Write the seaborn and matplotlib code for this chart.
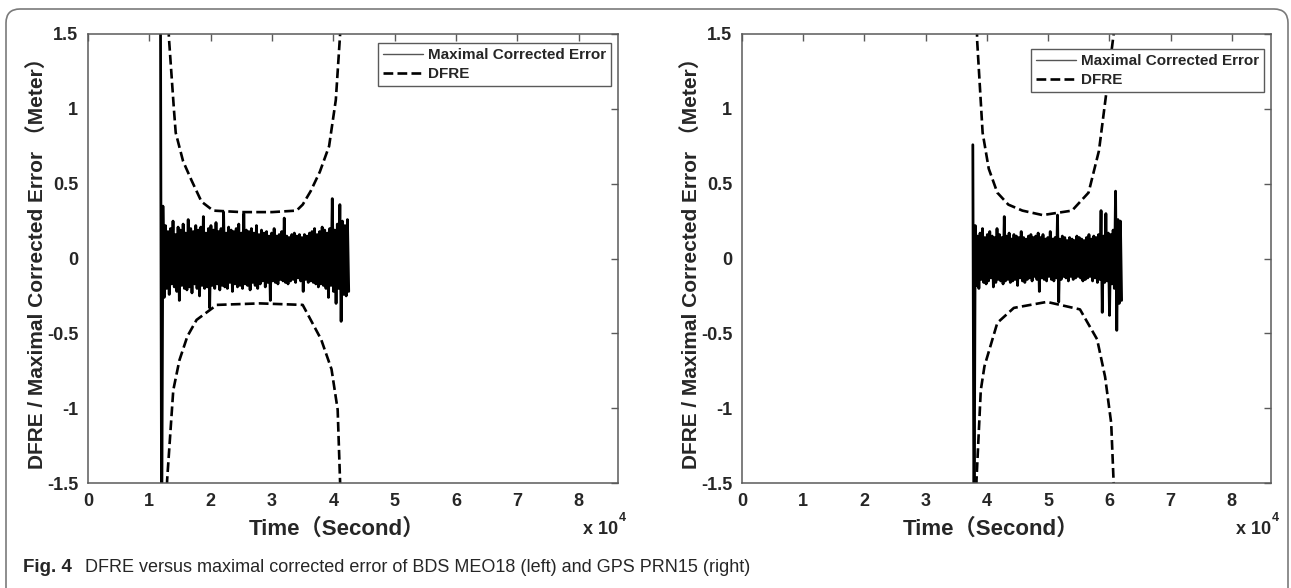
import numpy as np
import pandas as pd
import matplotlib
matplotlib.use("Agg")
import matplotlib.pyplot as plt
import seaborn as sns
from matplotlib.patches import FancyBboxPatch
from matplotlib.transforms import IdentityTransform

# ----------- Data -----------
x_max = 86400
x_ticks = [0, 1e4, 2e4, 3e4, 4e4, 5e4, 6e4, 7e4, 8e4]
x_tick_labels = ["0", "1", "2", "3", "4", "5", "6", "7", "8"]
y_ticks = [-1.5, -1, -0.5, 0, 0.5, 1, 1.5]
y_tick_labels = ["-1.5", "-1", "-0.5", "0", "0.5", "1", "1.5"]

# BDS MEO18 (left)
left_err_start, left_err_end = 11800, 42500
left_err = [
    2.0, -2.0, 0.35, -0.26, 0.22, -0.2, 0.18, -0.24, 0.2, -0.17,
    0.25, -0.19, 0.16, -0.22, 0.21, -0.28, 0.19, -0.18, 0.23, -0.2,
    0.17, -0.21, 0.26, -0.19, 0.2, -0.23, 0.18, -0.17, 0.22, -0.2,
    0.19, -0.25, 0.21, -0.18, 0.28, -0.2, 0.17, -0.19, 0.2, -0.33,
    0.22, -0.18, 0.19, -0.2, 0.24, -0.17, 0.18, -0.21, 0.2, -0.18,
    0.31, -0.19, 0.17, -0.2, 0.21, -0.16, 0.19, -0.22, 0.18, -0.17,
    0.2, -0.19, 0.23, -0.18, 0.17, -0.2, 0.3, -0.17, 0.19, -0.18,
    0.18, -0.21, 0.2, -0.16, 0.17, -0.18, 0.22, -0.2, 0.16, -0.17,
    0.19, -0.15, 0.17, -0.19, 0.18, -0.16, 0.15, -0.28, 0.17, -0.15,
    0.2, -0.16, 0.15, -0.17, 0.16, -0.14, 0.18, -0.15, 0.27, -0.16,
    0.15, -0.17, 0.14, -0.15, 0.16, -0.14, 0.17, -0.16, 0.15, -0.13,
    0.16, -0.15, 0.14, -0.22, 0.16, -0.14, 0.15, -0.16, 0.17, -0.15,
    0.18, -0.16, 0.2, -0.17, 0.16, -0.19, 0.18, -0.17, 0.21, -0.18,
    0.19, -0.2, 0.17, -0.26, 0.2, -0.18, 0.4, -0.22, 0.19, -0.3,
    0.23, -0.2, 0.36, -0.42, 0.25, -0.24, 0.22, -0.25, 0.26, -0.22,
]
left_dfre_up_t = [12800, 13200, 14000, 14300, 15500, 16900, 18500, 20400, 25000,
                  30000, 34000, 35000, 36300, 37800, 39300, 40400, 41100, 41300]
left_dfre_up = [1.8, 1.47, 1.0, 0.84, 0.65, 0.52, 0.38, 0.32, 0.31,
                0.31, 0.32, 0.36, 0.45, 0.58, 0.75, 1.06, 1.5, 1.8]
left_dfre_lo_t = [12700, 12900, 13900, 14900, 16200, 17700, 21000, 28000,
                  35000, 38000, 39700, 40700, 41100, 41200]
left_dfre_lo = [-1.8, -1.48, -0.88, -0.68, -0.52, -0.41, -0.31, -0.30,
                -0.31, -0.54, -0.74, -1.01, -1.5, -1.8]

# GPS PRN15 (right)
right_err_start, right_err_end = 37700, 62000
right_err = [
    0.76, -2.0, 0.22, -0.18, 0.15, -0.2, 0.17, -0.14, 0.2, -0.16,
    0.14, -0.17, 0.16, -0.15, 0.18, -0.13, 0.15, -0.19, 0.14, -0.16,
    0.2, -0.14, 0.16, -0.15, 0.14, -0.17, 0.28, -0.15, 0.15, -0.14,
    0.17, -0.16, 0.13, -0.15, 0.16, -0.14, 0.15, -0.18, 0.14, -0.13,
    0.18, -0.15, 0.14, -0.16, 0.13, -0.14, 0.15, -0.13, 0.16, -0.15,
    0.14, -0.12, 0.15, -0.14, 0.17, -0.22, 0.14, -0.13, 0.16, -0.14,
    0.13, -0.15, 0.14, -0.12, 0.18, -0.14, 0.13, -0.15, 0.14, -0.13,
    0.29, -0.29, 0.13, -0.14, 0.15, -0.12, 0.14, -0.13, 0.12, -0.15,
    0.14, -0.12, 0.13, -0.14, 0.12, -0.13, 0.15, -0.12, 0.14, -0.13,
    0.13, -0.15, 0.12, -0.14, 0.14, -0.13, 0.16, -0.12, 0.13, -0.15,
    0.15, -0.13, 0.14, -0.16, 0.16, -0.14, 0.32, -0.36, 0.15, -0.16,
    0.3, -0.15, 0.17, -0.38, 0.16, -0.17, 0.19, -0.2, 0.45, -0.48,
    0.26, -0.3, 0.25, -0.28,
]
right_dfre_up_t = [38300, 38400, 39300, 40300, 41700, 43500, 45800, 49100,
                   53900, 56600, 58300, 59700, 60700, 60900]
right_dfre_up = [1.8, 1.46, 0.84, 0.6, 0.44, 0.36, 0.32, 0.29,
                 0.32, 0.44, 0.72, 1.17, 1.5, 1.8]
right_dfre_lo_t = [38200, 38300, 39000, 39600, 41700, 44400, 49800, 55200,
                   58000, 59300, 60300, 60700, 60800]
right_dfre_lo = [-1.8, -1.48, -0.88, -0.72, -0.43, -0.33, -0.29, -0.34,
                 -0.54, -0.79, -1.1, -1.5, -1.8]

# ----------- Style -----------
sns.set_theme(style="white")
bold_font = ["Liberation Sans Narrow", "Liberation Sans", "Noto Sans CJK SC", "DejaVu Sans"]
plt.rcParams["font.family"] = bold_font
plt.rcParams["font.weight"] = "bold"
plt.rcParams["axes.labelweight"] = "bold"
spine_col = "#5a5a5a"

fig = plt.figure(figsize=(12.91, 5.88), dpi=100)
ax_l = fig.add_axes([88 / 1291, 105 / 588, 530 / 1291, 449 / 588])
ax_r = fig.add_axes([742 / 1291, 105 / 588, 529 / 1291, 449 / 588])

panels = [
    (ax_l, left_err_start, left_err_end, left_err, left_dfre_up_t, left_dfre_up,
     left_dfre_lo_t, left_dfre_lo, 1 - 9 / 449),
    (ax_r, right_err_start, right_err_end, right_err, right_dfre_up_t, right_dfre_up,
     right_dfre_lo_t, right_dfre_lo, 1 - 15 / 449),
]

for ax, t0, t1, err, up_t, up, lo_t, lo, leg_y in panels:
    err_df = pd.DataFrame({"t": np.linspace(t0, t1, len(err)), "v": err})
    sns.lineplot(data=err_df, x="t", y="v", sort=False, estimator=None,
                 color="black", lw=2.0, ax=ax, label="Maximal Corrected Error")
    sns.lineplot(x=up_t, y=up, sort=False, estimator=None, color="black",
                 lw=1.9, linestyle="--", ax=ax, label="DFRE")
    sns.lineplot(x=lo_t, y=lo, sort=False, estimator=None, color="black",
                 lw=1.9, linestyle="--", ax=ax)

    ax.set_xlim(0, x_max)
    ax.set_ylim(-1.5, 1.5)
    ax.set_xticks(x_ticks)
    ax.set_xticklabels(x_tick_labels)
    ax.set_yticks(y_ticks)
    ax.set_yticklabels(y_tick_labels)
    ax.tick_params(direction="in", top=True, right=True, length=5, width=1,
                   color=spine_col, labelsize=13, pad=7)
    for s in ax.spines.values():
        s.set_color(spine_col)
        s.set_linewidth(1.1)

    ax.set_xlabel("Time\uff08Second\uff09", fontsize=16, fontweight="bold")
    ax.set_ylabel("DFRE / Maximal Corrected Error \uff08Meter\uff09", fontsize=15,
                  fontweight="bold", labelpad=0)
    ax.xaxis.set_label_coords(0.47, -0.078)

    # MATLAB style exponent under the axis end
    ax.text(1.0, -0.085, "x 10", transform=ax.transAxes, ha="right", va="top",
            fontsize=13, fontweight="bold")
    ax.text(1.002, -0.065, "4", transform=ax.transAxes, ha="left", va="top",
            fontsize=9, fontweight="bold")

    leg = ax.legend(loc="upper right", bbox_to_anchor=(1 - 7 / 530, leg_y),
                    borderaxespad=0, fancybox=False, framealpha=1,
                    handlelength=2.6, handletextpad=0.3, borderpad=0.35,
                    labelspacing=0.3, prop={"family": bold_font, "weight": "bold", "size": 11})
    leg.get_frame().set_edgecolor(spine_col)
    leg.get_frame().set_linewidth(1.0)
    leg.get_lines()[0].set_color("#555555")
    leg.get_lines()[0].set_linewidth(1.0)

# ----------- Caption and border -----------
cap_font = ["Liberation Sans Narrow", "Liberation Sans", "DejaVu Sans"]
fig.text(23 / 1291, 1 - 568 / 588, "Fig. 4", fontsize=13.5, fontweight="bold",
         family=cap_font, va="center")
fig.text(85 / 1291, 1 - 568 / 588,
         "DFRE versus maximal corrected error of BDS MEO18 (left) and GPS PRN15 (right)",
         fontsize=13, fontweight="normal", family=cap_font, va="center")

border = FancyBboxPatch((6, -20), 1282, 599, boxstyle="round,pad=0,rounding_size=14",
                        transform=IdentityTransform(), fill=False,
                        edgecolor="#7a7a7a", linewidth=1.2)
fig.patches.append(border)

plt.savefig("out.png", dpi=100)
plt.close()
